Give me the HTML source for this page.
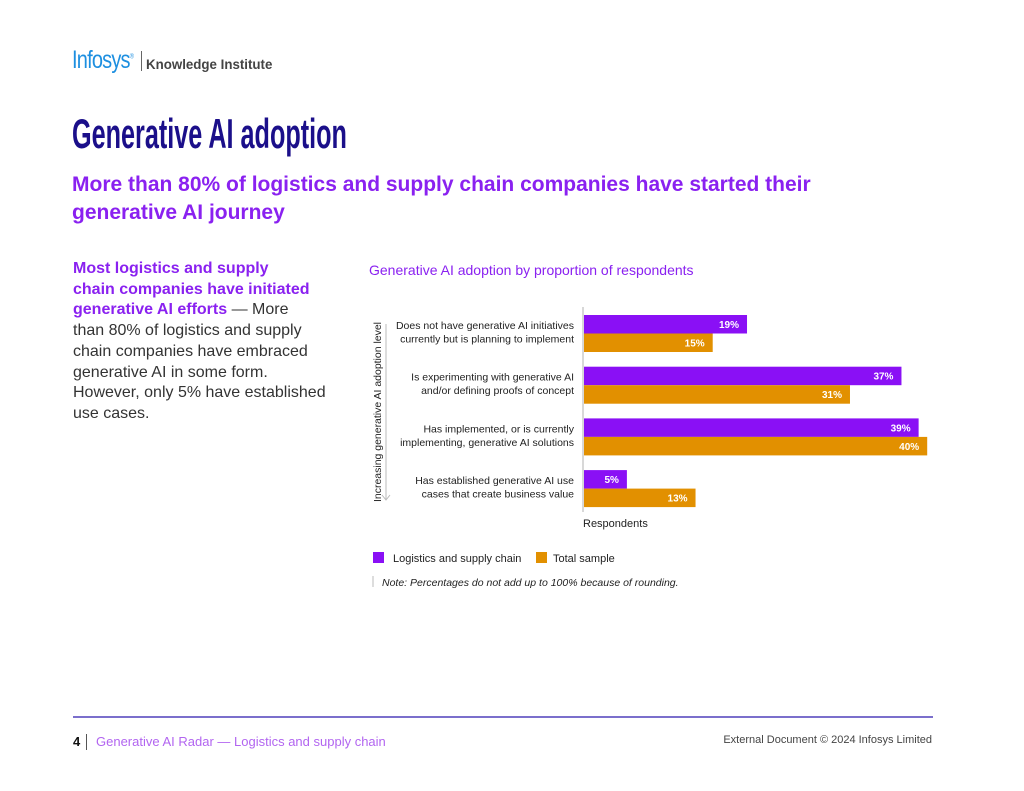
<!DOCTYPE html>
<html><head><meta charset="utf-8"><style>
html,body{margin:0;padding:0;background:#fff;width:1024px;height:791px;overflow:hidden;font-family:"Liberation Sans",sans-serif;}
.abs{position:absolute;}
</style></head><body>
<div style="position:relative;width:1024px;height:791px;">
<div class="abs" style="left:72px;top:46px;font-size:25px;color:#1d8fe0;transform:scaleX(0.8);transform-origin:left;letter-spacing:-1px;">Infosys<sup style="font-size:7px">®</sup></div>
<div class="abs" style="left:141px;top:51px;width:1px;height:20px;background:#666;"></div>
<div class="abs" style="left:146px;top:56px;font-size:14px;font-weight:bold;color:#444;transform:scaleX(0.95);transform-origin:left;">Knowledge Institute</div>
<div class="abs" style="left:72px;top:110px;font-size:42px;font-weight:bold;color:#1b0f8a;transform:scaleX(0.6);transform-origin:left;white-space:nowrap;">Generative AI adoption</div>
<div class="abs" style="left:72px;top:171px;font-size:21px;font-weight:bold;color:#8a21f0;line-height:28px;width:800px;">More than 80% of logistics and supply chain companies have started their generative AI journey</div>
<div class="abs" style="left:73px;top:259px;font-size:16px;line-height:20.7px;color:#333;white-space:nowrap;"><b style="color:#8a21f0">Most logistics and supply<br>chain companies have initiated<br>generative AI efforts</b> — More<br>than 80% of logistics and supply<br>chain companies have embraced<br>generative AI in some form.<br>However, only 5% have established<br>use cases.</div>
<div class="abs" style="left:369px;top:262px;font-size:14px;color:#8a21f0;">Generative AI adoption by proportion of respondents</div>
<svg class="abs" style="left:0;top:0" width="1024" height="791" id="chart"></svg>
<div class="abs" style="left:73px;top:716px;width:860px;height:2px;background:#7b6fcc;"></div>
<div class="abs" style="left:73px;top:734px;font-size:13px;font-weight:bold;color:#111;">4</div>
<div class="abs" style="left:86px;top:734px;width:1px;height:16px;background:#555;"></div>
<div class="abs" style="left:96px;top:734px;font-size:13px;color:#b265f0;">Generative AI Radar — Logistics and supply chain</div>
<div class="abs" style="right:92px;top:734px;font-size:11px;color:#444;">External Document © 2024 Infosys Limited</div>
</div>
<script>
const categories=[["Does not have generative AI initiatives","currently but is planning to implement"],["Is experimenting with generative AI","and/or defining proofs of concept"],["Has implemented, or is currently","implementing, generative AI solutions"],["Has established generative AI use","cases that create business value"]];
const logistics=[19,37,39,5];
const total=[15,31,40,13];
const NS="http://www.w3.org/2000/svg";
const svg=document.getElementById('chart');
const x0=584, scale=8.58, top0=315, step=51.7, bh=18.5;
const xs=v=>v*scale;
function mk(t,a,txt){const e=document.createElementNS(NS,t);for(const k in a)e.setAttribute(k,a[k]);if(txt!=null)e.textContent=txt;svg.appendChild(e);return e;}
let ax=mk('line',{x1:583,y1:307,x2:583,y2:512,stroke:'#ccc','stroke-width':1.5});


categories.forEach((c,i)=>{
  const y=top0+i*step;
  [[logistics[i],'#8a10f5',y],[total[i],'#e29000',y+bh]].forEach(([v,col,yy],j)=>{
    const r=mk('rect',{x:x0,y:yy,width:xs(v),height:bh,fill:col});
    
    
    const t=mk('text',{x:x0+xs(v)-8,y:yy+13,'text-anchor':'end','font-size':10,'font-weight':'bold',fill:'#fff'},v+'%');
    
    
  });
  c.forEach((ln,k)=>{
    const t=mk('text',{x:574,y:y+14+k*13.5,'text-anchor':'end','font-size':10.5,fill:'#222'},ln);
    
    
  });
});
let yt=mk('text',{x:0,y:0,'font-size':10.5,fill:'#222',textLength:180,lengthAdjust:'spacingAndGlyphs',transform:'translate(381,502) rotate(-90)'},'Increasing generative AI adoption level');


let arr=mk('path',{d:'M386 324 V500 M382 495 L386 500 L390 495',stroke:'#bbb',fill:'none'});


let xt=mk('text',{x:583,y:527,'font-size':11,fill:'#222'},'Respondents');


let l1=mk('rect',{x:373,y:552,width:11,height:11,fill:'#8a10f5'});


let l1t=mk('text',{x:393,y:562,'font-size':11,fill:'#222'},'Logistics and supply chain');


let l2=mk('rect',{x:536,y:552,width:11,height:11,fill:'#e29000'});


let l2t=mk('text',{x:553,y:562,'font-size':11,fill:'#222'},'Total sample');


let nl=mk('line',{x1:373,y1:576,x2:373,y2:587,stroke:'#bbb'});


let note=mk('text',{x:382,y:586,'font-size':10.5,'font-style':'italic',fill:'#222'},'Note: Percentages do not add up to 100% because of rounding.');


</script>
</body></html>
